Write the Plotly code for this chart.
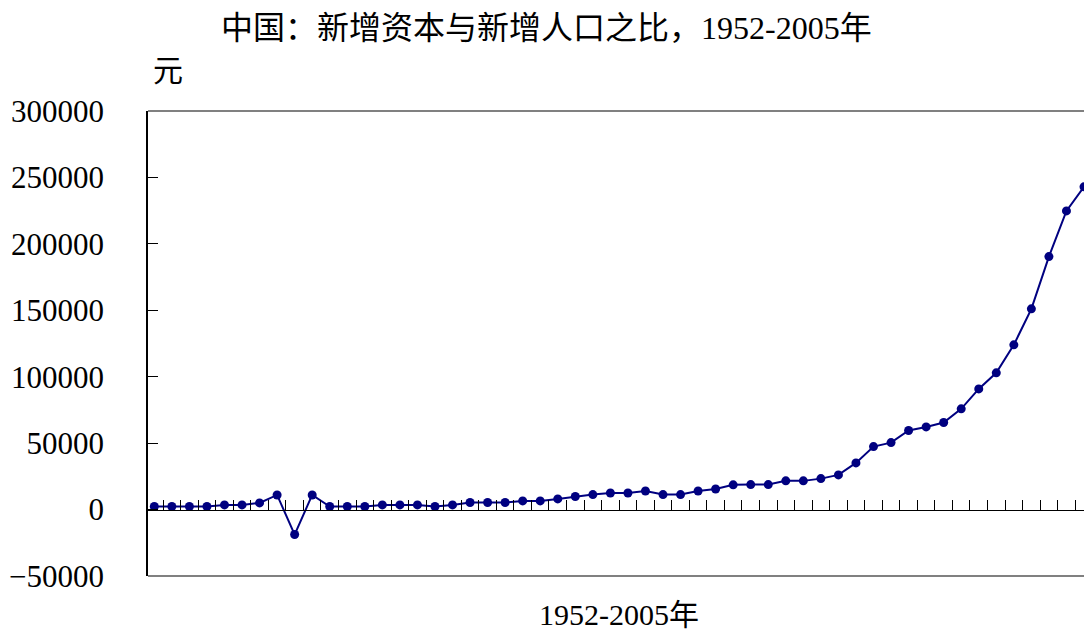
import plotly.graph_objects as go

years = list(range(1952, 2006))
values = [2300, 2300, 2300, 2300, 3500, 3500, 5000, 11000, -18800, 11000,
          2300, 2300, 2300, 3500, 3500, 3500, 2300, 3500, 5300, 5300,
          5300, 6500, 6500, 8000, 9800, 11300, 12500, 12500, 14000, 11300,
          11300, 14000, 15500, 18600, 18800, 18800, 21600, 21600, 23300, 26100,
          35100, 47400, 50400, 59500, 62200, 65500, 75800, 90800, 102900, 124000,
          151100, 190400, 224800, 242900]
title_text = "中国：新增资本与新增人口之比，1952-2005年"
x_title = "1952-2005年"
y_unit = "元"
y_ticks = [-50000, 0, 50000, 100000, 150000, 200000, 250000, 300000]

FONT = "Liberation Serif, Noto Sans CJK SC, serif"
idx = list(range(len(years)))

fig = go.Figure()
fig.add_trace(go.Scatter(
    x=idx, y=values, mode="lines+markers",
    line=dict(color="#000080", width=2),
    marker=dict(color="#000080", size=9),
    cliponaxis=False, hovertext=[str(y) for y in years],
))

W, H = 1084, 634
L, R, T, B = 148, 0, 111, 634 - 576
fig.update_layout(
    width=W, height=H,
    margin=dict(l=L, r=R, t=T, b=B, pad=0),
    paper_bgcolor="white", plot_bgcolor="white",
    showlegend=False,
    font=dict(family=FONT, size=31, color="black"),
    xaxis=dict(range=[-0.36, 53], showgrid=False, zeroline=False,
               showline=False, showticklabels=False, ticks=""),
    xaxis2=dict(overlaying="x", matches="x", anchor="free",
                position=50000 / 350000, side="bottom",
                tickvals=[i + 0.5 for i in idx], ticks="inside",
                ticklen=10, tickcolor="black", tickwidth=1,
                showline=True, linecolor="black", linewidth=1,
                showticklabels=False, showgrid=False, zeroline=False),
    yaxis=dict(range=[-50000, 300000], tickvals=y_ticks,
               ticktext=[str(v).replace("-", "\u2212") for v in y_ticks],
               ticks="inside", ticklen=10, tickcolor="black",
               showline=True, linecolor="black", linewidth=1.5,
               showgrid=False, zeroline=False,
               ticklabelstandoff=36,
               tickfont=dict(size=31)),
)
# dummy trace to activate xaxis2
fig.add_trace(go.Scatter(x=[0], y=[None], xaxis="x2", showlegend=False, hoverinfo="skip"))

fig.add_shape(type="line", xref="paper", yref="paper", x0=0, x1=1, y0=1, y1=1,
              line=dict(color="#808080", width=2), layer="below")
fig.add_shape(type="line", xref="paper", yref="paper", x0=0, x1=1, y0=0, y1=0,
              line=dict(color="#808080", width=2), layer="below")

pw, ph = W - L - R, H - T - B


def px(xs, ys):
    """screen pixel -> paper coords"""
    return (xs - L) / pw, (H - B - ys) / ph


tx, ty = px(546, 28)
fig.add_annotation(text=title_text, xref="paper", yref="paper", x=tx, y=ty,
                   showarrow=False, xanchor="center", yanchor="middle",
                   font=dict(size=32))
ux, uy = px(168, 70)
fig.add_annotation(text=y_unit, xref="paper", yref="paper", x=ux, y=uy,
                   showarrow=False, xanchor="center", yanchor="middle",
                   font=dict(size=30))
xx, xy = px(619, 614)
fig.add_annotation(text=x_title, xref="paper", yref="paper", x=xx, y=xy,
                   showarrow=False, xanchor="center", yanchor="middle",
                   font=dict(size=30))

fig.write_html(
    "out.html",
    config={"displayModeBar": False},
    post_script="document.body.style.margin='0px';document.body.style.overflow='hidden';",
)
